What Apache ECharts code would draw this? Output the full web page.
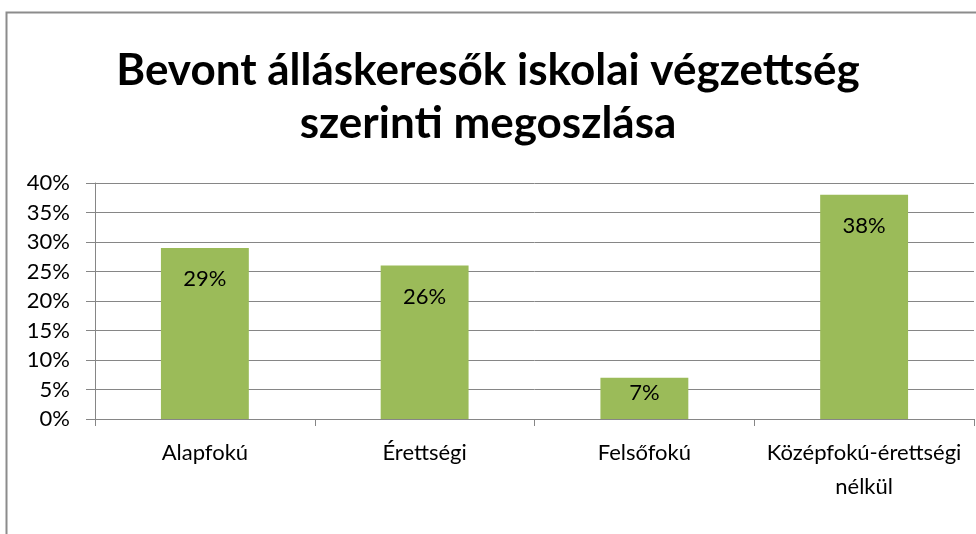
<!DOCTYPE html>
<html lang="hu">
<head>
    <meta charset="UTF-8">
    <title>Bevont álláskeresők iskolai végzettség szerinti megoszlása</title>
    <script src="https://cdn.jsdelivr.net/npm/echarts@6/dist/echarts.min.js"></script>
    <style>
        html, body { margin: 0; padding: 0; background: #fff; }
        #main { width: 976px; height: 534px; }
    </style>
</head>
<body>
<div id="main"></div>
<script>
    // adatok
    var categories = ['Alapfokú', 'Érettségi', 'Felsőfokú', 'Középfokú-érettségi nélkül'];
    var shares = [0.29, 0.26, 0.07, 0.38];
    var yTicks = { min: 0, max: 0.4, step: 0.05 };

    var font = 'Lato, "Open Sans", sans-serif';

    var myChart = echarts.init(document.getElementById('main'));
    var option = {
        backgroundColor: '#fff',
        animation: false,
        title: {
            text: 'Bevont álláskeresők iskolai végzettség\nszerinti megoszlása',
            left: 'center',
            top: 39,
            textStyle: {
                fontFamily: font,
                fontSize: 44,
                fontWeight: 'bold',
                color: '#000',
                lineHeight: 53
            }
        },
        graphic: [{
            type: 'rect',
            shape: { x: 6.5, y: 12.5, width: 1000, height: 600 },
            style: { fill: 'none', stroke: '#8c8c8c', lineWidth: 2 },
            silent: true
        }],
        grid: { left: 95, right: 2, top: 183, bottom: 115 },
        xAxis: {
            type: 'category',
            data: categories,
            axisLine: { lineStyle: { color: '#868686', width: 1 } },
            axisTick: { show: true, length: 7, alignWithLabel: false, lineStyle: { color: '#868686' } },
            axisLabel: {
                interval: 0,
                margin: 17,
                fontFamily: font,
                fontSize: 22,
                color: '#000',
                lineHeight: 34,
                formatter: function (v) { return v.replace(' ', '\n'); }
            }
        },
        yAxis: {
            type: 'value',
            min: yTicks.min,
            max: yTicks.max,
            interval: yTicks.step,
            axisLine: { show: true, lineStyle: { color: '#868686' } },
            axisTick: { show: true, length: 9, lineStyle: { color: '#868686' } },
            splitLine: { lineStyle: { color: '#868686', width: 1 } },
            axisLabel: {
                margin: 25,
                fontFamily: font,
                fontSize: 22,
                color: '#000',
                formatter: function (v) { return Math.round(v * 100) + '%'; }
            }
        },
        series: [{
            type: 'bar',
            barWidth: '40%',
            itemStyle: { color: '#9bbb59' },
            data: shares.map(function (v) {
                return {
                    value: v,
                    label: { distance: v < 0.1 ? 4 : 20 }
                };
            }),
            label: {
                show: true,
                position: 'insideTop',
                fontFamily: font,
                fontSize: 22,
                color: '#000',
                formatter: function (p) { return Math.round(p.value * 100) + '%'; }
            }
        }]
    };
    myChart.setOption(option);
</script>
</body>
</html>
